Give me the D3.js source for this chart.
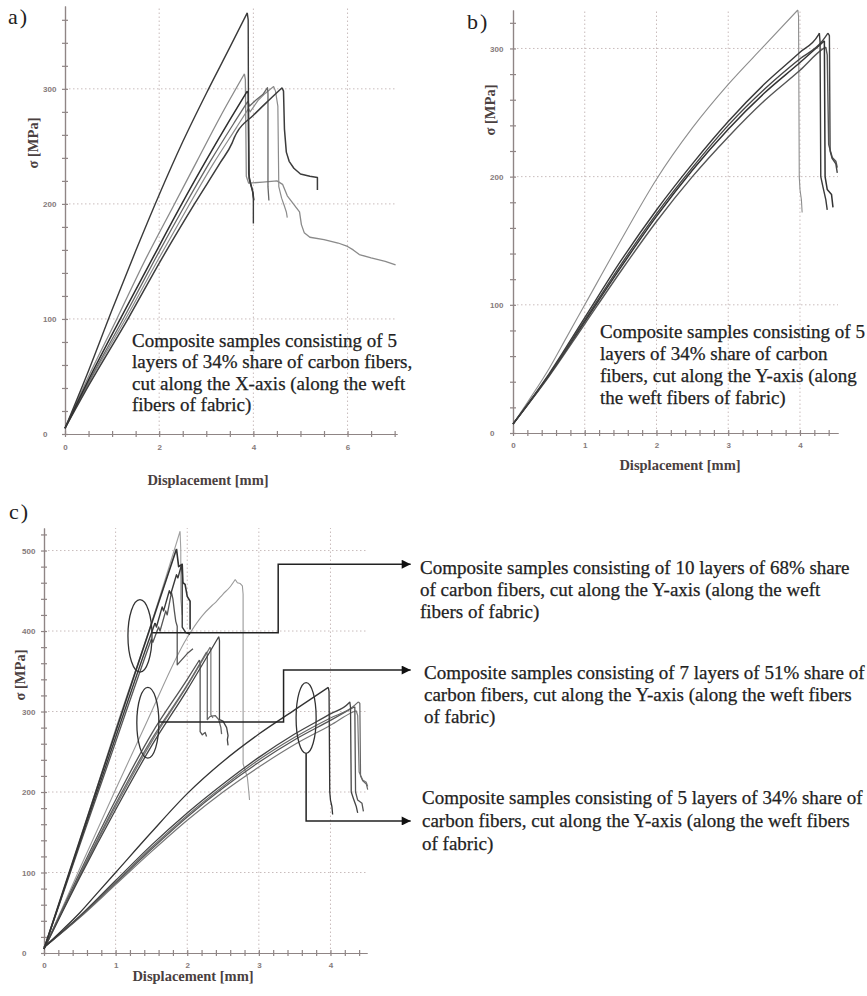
<!DOCTYPE html>
<html lang="en">
<head>
<meta charset="utf-8">
<script src="https://d3js.org/d3.v7.min.js"></script>
<style>
  body { margin: 0; background: #fff; }
  svg text { font-family: "Liberation Serif", "Times New Roman", serif; }
  .grid { stroke: #c9bcbc; stroke-width: 1; stroke-dasharray: 1.5,2.5; }
  .ax path, .ax line { stroke: #8f8585; stroke-width: 1.2; }
  .ticklab text { font-family: "Liberation Sans", Arial, sans-serif; font-size: 8px; font-weight: bold; fill: #857a7a; }
  .ticklab path { display: none; }
  .axlab { font-size: 14.5px; font-weight: bold; fill: #4a4040; }
  .note { font-size: 19px; fill: #222; stroke: #222; stroke-width: 0.25; }
  .plab { font-size: 22px; fill: #222; letter-spacing: 2px; }
  .curve { fill: none; stroke-linejoin: round; }
</style>
</head>
<body>
<script>
// ---- panel a) 5 layers, 34% carbon, cut along X  [displacement mm, stress MPa]
var a1 = [[0,5],[0.5,55],[1,108],[1.5,159],[2,208],[2.5,254],[3,296],[3.5,336],[3.87,366],[3.89,360],[3.9,226],[3.94,218],[3.98,212],[4.0,205],[4.0,183]];
var a2 = [[0,5],[0.5,50],[1.1,100],[1.7,151],[2.3,198],[2.8,237],[3.3,276],[3.81,313],[3.83,308],[3.85,224],[3.9,218],[4.2,219],[4.5,220],[4.62,217],[4.72,207],[4.85,200],[4.98,193],[5.02,182],[5.08,175],[5.2,171],[5.5,169],[5.8,166],[6.0,163],[6.12,160],[6.25,156],[6.5,153],[6.8,150],[7.02,147]];
var a3 = [[0,5],[0.5,47],[1.2,102],[1.85,152],[2.48,200],[3.0,238],[3.5,273],[3.87,298],[3.89,296],[3.91,222],[3.95,216],[3.99,210],[4.01,203]];
var a4 = [[0,5],[0.5,45],[1.25,101],[1.9,151],[2.55,199],[3.1,238],[3.6,271],[3.88,289],[3.92,285],[4.05,290],[4.2,295],[4.3,301],[4.31,296],[4.31,215],[4.33,203]];
var a5 = [[0,5],[0.5,44],[1.3,101],[1.97,151],[2.62,198],[3.15,235],[3.65,267],[3.9,283],[3.93,280],[4.1,290],[4.25,296],[4.43,302],[4.47,298],[4.52,285],[4.54,215],[4.6,205],[4.66,198],[4.7,193],[4.72,188]];
var a6 = [[0,5],[0.5,42],[1.35,101],[2.05,152],[2.75,200],[3.3,236],[3.55,253],[3.6,258],[3.65,262],[4.0,277],[4.3,289],[4.61,301],[4.64,298],[4.66,265],[4.7,245],[4.76,237],[4.86,231],[5.0,226],[5.2,224],[5.36,223],[5.36,212]];

// ---- panel b) 5 layers, 34% carbon, cut along Y (same group re-used in c)
var b1 = [[0,7],[0.25,28],[0.5,50],[0.75,75],[1,100],[1.5,150],[2,198],[2.5,238],[3,272],[3.5,302],[3.97,330],[3.98,325],[3.99,200],[4.0,190],[4.02,182],[4.03,172]];
var b2 = [[0,7],[0.5,46],[1,90],[1.5,134],[2,174],[2.5,210],[3,243],[3.5,272],[4,297],[4.25,310],[4.27,312],[4.28,305],[4.29,200],[4.32,192],[4.36,182],[4.38,174]];
var b3 = [[0,7],[0.5,45],[1,88],[1.5,131],[2,171],[2.5,207],[3,240],[3.5,268],[4,292],[4.3,305],[4.39,312],[4.41,310],[4.42,220],[4.45,214],[4.5,210],[4.52,203]];
var b4 = [[0,7],[0.5,45],[1,87],[1.5,129],[2,169],[2.5,205],[3,237],[3.5,265],[4,289],[4.3,304],[4.34,306],[4.35,200],[4.38,190],[4.44,186],[4.46,176]];
var b5 = [[0,7],[0.5,44],[1,85],[1.5,126],[2,165],[2.5,200],[3,231],[3.5,259],[4,283],[4.33,300],[4.36,301],[4.38,295],[4.4,225],[4.45,215],[4.5,212],[4.52,207]];

// ---- panel c) 10 layers 68% (t), 7 layers 51% (s)
var t1 = [[0,5],[0.5,140],[1,275],[1.46,398],[1.85,502],[1.88,480],[1.93,483],[1.94,460],[1.97,458],[2.0,443],[2.04,437],[2.04,402]];
var t2 = [[0,5],[0.5,137],[1,268],[1.45,385],[1.55,410],[1.57,405],[1.65,430],[1.67,425],[1.75,450],[1.77,446],[1.85,470],[1.87,466],[1.92,482],[1.93,470],[1.93,405],[1.98,398],[2.04,396]];
var t3 = [[0,5],[0.5,134],[1,262],[1.4,365],[1.5,390],[1.52,386],[1.6,405],[1.62,400],[1.7,425],[1.72,420],[1.78,448],[1.8,440],[1.82,425],[1.84,412],[1.86,406],[1.86,358],[2.0,372],[2.08,378]];
var t4 = [[0,5],[0.5,140],[1,278],[1.5,410],[1.9,524],[1.91,500],[1.91,440],[1.93,420]];
var s1 = [[0,5],[0.5,100],[1,190],[1.5,272],[2.0,340],[2.17,364],[2.18,360],[2.18,275],[2.21,271],[2.25,274],[2.27,269]];
var s2 = [[0,5],[0.5,97],[1,185],[1.5,265],[2.0,333],[2.27,374],[2.28,370],[2.28,290],[2.32,294],[2.39,295],[2.44,290],[2.47,280],[2.48,272]];
var s3 = [[0,5],[0.5,94],[1,178],[1.5,257],[2.0,327],[2.44,393],[2.45,388],[2.45,290],[2.5,288],[2.55,280],[2.57,270],[2.56,265],[2.57,258]];
var s4 = [[0,5],[0.5,105],[1,203],[1.44,288],[2.0,392],[2.2,418],[2.35,432],[2.4,436],[2.5,446],[2.6,455],[2.67,464],[2.7,460],[2.74,459],[2.77,456],[2.78,446],[2.78,235],[2.84,218],[2.86,200],[2.87,190]];
var s5 = [[0,5],[0.5,96],[1,182],[1.5,262],[2.0,332],[2.32,380],[2.33,375],[2.33,296],[2.36,292]];

var noteA = ["Composite samples consisting of 5", "layers of 34% share of carbon fibers,", "cut along the X-axis (along the weft", "fibers of fabric)"];
var noteB = ["Composite samples consisting of 5", "layers of 34% share of carbon", "fibers, cut along the Y-axis (along", "the weft fibers of fabric)"];
var noteC1 = ["Composite samples consisting of 10 layers of 68% share", "of carbon fibers, cut along the Y-axis (along the weft", "fibers of fabric)"];
var noteC2 = ["Composite samples consisting of 7 layers of 51% share of", "carbon fibers, cut along the Y-axis (along the weft fibers", "of fabric)"];
var noteC3 = ["Composite samples consisting of 5 layers of 34% share of", "carbon fibers, cut along the Y-axis (along the weft fibers", "of fabric)"];

var svg = d3.select("body").append("svg")
    .attr("width", 867)
    .attr("height", 996);

var defs = svg.append("defs");
defs.append("marker")
    .attr("id", "arr")
    .attr("viewBox", "0 0 10 10")
    .attr("refX", 10).attr("refY", 5)
    .attr("markerWidth", 10).attr("markerHeight", 9)
    .attr("markerUnits", "userSpaceOnUse")
    .attr("orient", "auto")
  .append("path")
    .attr("d", "M0,0L10,5L0,10z")
    .attr("fill", "#111");

function drawAxes(x, y, o) {
    var g = svg.append("g");
    var x0 = x.range()[0], y0 = y.range()[0];
    var x1 = x.range()[1], yTop = y.range()[1];

    g.selectAll(".gx").data(o.xGrid).enter().append("line")
        .attr("class", "grid")
        .attr("x1", function(d) { return x(d); }).attr("x2", function(d) { return x(d); })
        .attr("y1", y0).attr("y2", yTop);
    g.selectAll(".gy").data(o.yGrid).enter().append("line")
        .attr("class", "grid")
        .attr("x1", x0).attr("x2", x1)
        .attr("y1", function(d) { return y(d); }).attr("y2", function(d) { return y(d); });

    var xm = d3.range(0, o.xMinorMax + 1e-6, o.xMinor);
    var ym = d3.range(0, o.yMinorMax + 1e-6, o.yMinor);

    // little "+" ticks on both sides of the axis lines
    g.append("g").attr("class", "ax").attr("transform", "translate(0," + y0 + ")")
        .call(d3.axisBottom(x).tickValues(xm).tickSize(3).tickSizeOuter(0).tickFormat(""));
    g.append("g").attr("class", "ax").attr("transform", "translate(0," + y0 + ")")
        .call(d3.axisTop(x).tickValues(xm).tickSize(3).tickSizeOuter(0).tickFormat(""));
    g.append("g").attr("class", "ax").attr("transform", "translate(" + x0 + ",0)")
        .call(d3.axisLeft(y).tickValues(ym).tickSize(3).tickSizeOuter(0).tickFormat(""));
    g.append("g").attr("class", "ax").attr("transform", "translate(" + x0 + ",0)")
        .call(d3.axisRight(y).tickValues(ym).tickSize(3).tickSizeOuter(0).tickFormat(""));

    g.append("g").attr("class", "ticklab").attr("transform", "translate(0," + y0 + ")")
        .call(d3.axisBottom(x).tickValues(o.xLab).tickSize(0).tickPadding(o.xPad).tickFormat(d3.format("d")));
    g.append("g").attr("class", "ticklab").attr("transform", "translate(" + x0 + ",0)")
        .call(d3.axisLeft(y).tickValues(o.yLab).tickSize(0).tickFormat(d3.format("d")))
        .selectAll("text")
        .attr("text-anchor", "start")
        .attr("x", o.yLabX - x0);

    svg.append("text").attr("class", "axlab")
        .attr("x", o.xTitle[0]).attr("y", o.xTitle[1])
        .attr("text-anchor", "middle")
        .text("Displacement [mm]");
    svg.append("text").attr("class", "axlab")
        .attr("transform", "translate(" + o.yTitle[0] + "," + o.yTitle[1] + ") rotate(-90)")
        .attr("text-anchor", "middle")
        .attr("dy", "0.35em")
        .text("\u03c3 [MPa]");
    svg.append("text").attr("class", "plab")
        .attr("x", o.plab[0]).attr("y", o.plab[1])
        .text(o.plab[2]);
}

// smooth loading branch (up to the first load drop), straight segments after it
function curvePath(x, y, pts) {
    var k = 0;
    while (k < pts.length - 1 && pts[k + 1][1] >= pts[k][1] && pts[k + 1][0] > pts[k][0]) k++;
    var smooth = d3.line().curve(d3.curveMonotoneX)
        .x(function(d) { return x(d[0]); })
        .y(function(d) { return y(d[1]); });
    var straight = d3.line()
        .x(function(d) { return x(d[0]); })
        .y(function(d) { return y(d[1]); });
    var p = smooth(pts.slice(0, k + 1));
    if (k < pts.length - 1) p += straight(pts.slice(k));
    return p;
}

function drawCurves(x, y, list) {
    svg.append("g").selectAll("path")
        .data(list)
        .enter().append("path")
        .attr("class", "curve")
        .attr("d", function(d) { return curvePath(x, y, d.pts); })
        .attr("stroke", function(d) { return d.c; })
        .attr("stroke-width", function(d) { return d.w; });
}

function drawNote(lines, x0, y0, dy) {
    svg.append("g").selectAll("text")
        .data(lines)
        .enter().append("text")
        .attr("class", "note")
        .attr("x", x0)
        .attr("y", function(d, i) { return y0 + i * dy; })
        .text(function(d) { return d; });
}

// ---------- a)
var xA = d3.scaleLinear().domain([0, 7.05]).range([65, 397]);
var yA = d3.scaleLinear().domain([0, 372]).range([434, 6]);
drawAxes(xA, yA, {
    xGrid: [2, 4, 6], yGrid: [100, 200, 300],
    xMinor: 0.5, xMinorMax: 7, yMinor: 20, yMinorMax: 360,
    xLab: [0, 2, 4, 6], yLab: [0, 100, 200, 300], xPad: 10, yLabX: 43,
    xTitle: [208, 485], yTitle: [33, 143], plab: [8, 24, "a)"]
});
drawCurves(xA, yA, [
    {pts: a2, c: "#8a8a8a", w: 1.3},
    {pts: a5, c: "#8c8c8c", w: 1.2},
    {pts: a4, c: "#666", w: 1.3},
    {pts: a6, c: "#3c3c3c", w: 1.5},
    {pts: a3, c: "#2e2e2e", w: 1.5},
    {pts: a1, c: "#3a3a3a", w: 1.4}
]);
drawNote(noteA, 132, 347, 21.3);

// ---------- b)
var xB = d3.scaleLinear().domain([0, 4.53]).range([513, 838]);
var yB = d3.scaleLinear().domain([0, 330]).range([433, 10]);
drawAxes(xB, yB, {
    xGrid: [1, 2, 3, 4], yGrid: [100, 200, 300],
    xMinor: 0.2, xMinorMax: 4.4, yMinor: 20, yMinorMax: 320,
    xLab: [0, 1, 2, 3, 4], yLab: [0, 100, 200, 300], xPad: 9, yLabX: 490,
    xTitle: [680, 470], yTitle: [490, 110], plab: [467, 29, "b)"]
});
drawCurves(xB, yB, [
    {pts: b1, c: "#8e8e8e", w: 1.1},
    {pts: b5, c: "#555", w: 1.4},
    {pts: b4, c: "#333", w: 1.5},
    {pts: b3, c: "#444", w: 1.4},
    {pts: b2, c: "#3a3a3a", w: 1.4}
]);
drawNote(noteB, 600, 338, 22);

// ---------- c)
var xC = d3.scaleLinear().domain([0, 4.51]).range([44, 367]);
var yC = d3.scaleLinear().domain([0, 528]).range([953, 528]);
drawAxes(xC, yC, {
    xGrid: [1, 2, 3, 4], yGrid: [100, 200, 300, 400, 500],
    xMinor: 0.2, xMinorMax: 4.4, yMinor: 20, yMinorMax: 520,
    xLab: [0, 1, 2, 3, 4], yLab: [0, 100, 200, 300, 400, 500], xPad: 9, yLabX: 22,
    xTitle: [193, 981], yTitle: [20, 675], plab: [9, 519, "c)"]
});
drawCurves(xC, yC, [
    {pts: s4, c: "#9a9a9a", w: 1.1},
    {pts: t4, c: "#a0a0a0", w: 1.1},
    {pts: s5, c: "#777", w: 1.2},
    {pts: s1, c: "#555", w: 1.3},
    {pts: s2, c: "#666", w: 1.3},
    {pts: s3, c: "#444", w: 1.3},
    {pts: t3, c: "#555", w: 1.3},
    {pts: t2, c: "#3a3a3a", w: 1.4},
    {pts: t1, c: "#333", w: 1.6},
    {pts: b5, c: "#777", w: 1.2},
    {pts: b4, c: "#555", w: 1.3},
    {pts: b3, c: "#666", w: 1.2},
    {pts: b2, c: "#444", w: 1.3},
    {pts: b1, c: "#333", w: 1.3}
]);

// ellipses marking each group, in data units [d, v, rx(mm), ry(MPa)]
var ellipses = [[1.34, 394, 0.168, 45], [1.45, 286, 0.154, 44], [3.66, 292, 0.14, 44]];
svg.append("g").selectAll("ellipse")
    .data(ellipses)
    .enter().append("ellipse")
    .attr("cx", function(d) { return xC(d[0]); })
    .attr("cy", function(d) { return yC(d[1]); })
    .attr("rx", function(d) { return xC(d[2]) - xC(0); })
    .attr("ry", function(d) { return yC(0) - yC(d[3]); })
    .attr("fill", "none")
    .attr("stroke", "#333")
    .attr("stroke-width", 1.3);

// leader lines from the ellipses to the notes
var leaders = [
    [[1.51, 398], [3.27, 398], [3.27, 483], [5.12, 483]],
    [[1.61, 287], [3.345, 287], [3.345, 351.5], [5.12, 351.5]],
    [[3.66, 248], [3.66, 164], [5.12, 164]]
];
var lead = d3.line().x(function(d) { return xC(d[0]); }).y(function(d) { return yC(d[1]); });
svg.append("g").selectAll("path")
    .data(leaders)
    .enter().append("path")
    .attr("d", lead)
    .attr("fill", "none")
    .attr("stroke", "#222")
    .attr("stroke-width", 1.5)
    .attr("marker-end", "url(#arr)");

drawNote(noteC1, 420, 574, 22);
drawNote(noteC2, 424, 679, 22);
drawNote(noteC3, 422, 804, 23);
</script>
</body>
</html>
